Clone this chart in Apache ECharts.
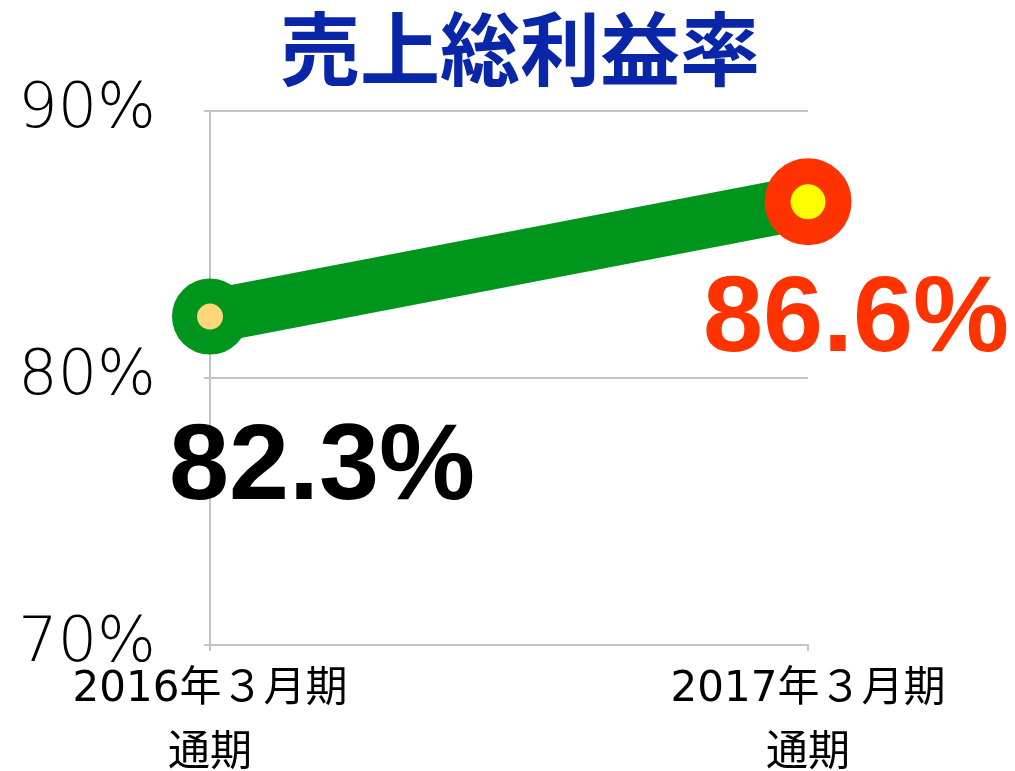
<!DOCTYPE html>
<html><head><meta charset="utf-8">
<script src="https://cdn.jsdelivr.net/npm/echarts@6/dist/echarts.min.js"></script>
<style>html,body{margin:0;padding:0;background:#fff}#c{width:1015px;height:771px}</style>
</head><body><div id="c"></div>
<script>
const titleText = '売上総利益率';
const categories = ['2016年３月期\n通期', '2017年３月期\n通期'];
const values = [82.3, 86.6];
const yTicks = [70, 80, 90];

const innerColors = ['#ffd67a', '#ffff00'];
const ringColors = ['#00961e', '#ff3300'];
const symbolSizes = [51, 61];
const ringWidths = [25, 26];
const labelColors = ['#000000', '#ff3300'];
const labelOffsets = [[112, 153], [48, 119]];

const data = values.map((v, i) => ({
  value: v,
  symbolSize: symbolSizes[i],
  itemStyle: { color: innerColors[i], borderColor: ringColors[i], borderWidth: ringWidths[i] },
  label: { color: labelColors[i], offset: labelOffsets[i] }
}));

const chart = echarts.init(document.getElementById('c'));
chart.setOption({
  animation: false,
  title: {
    text: titleText, left: 275, top: 4,
    textStyle: { fontFamily: 'Noto Sans CJK JP', fontWeight: 'bold', fontSize: 80, color: '#0a26a8' }
  },
  grid: { left: 210, right: 207, top: 111, bottom: 126, containLabel: false, outerBoundsMode: 'none' },
  xAxis: {
    type: 'category', data: categories, boundaryGap: false,
    axisLine: { lineStyle: { color: '#c4c4c4', width: 2 } },
    axisTick: { show: true, length: 6, lineStyle: { color: '#c4c4c4', width: 2 } },
    splitLine: { show: false },
    axisLabel: {
      fontFamily: 'DejaVu Sans, Noto Sans CJK JP', fontSize: 42, lineHeight: 64,
      color: '#000', margin: 13, interval: 0
    }
  },
  yAxis: {
    type: 'value', min: yTicks[0], max: yTicks[yTicks.length - 1], interval: 10,
    axisLine: { show: true, lineStyle: { color: '#c4c4c4', width: 2 } },
    axisTick: { show: true, length: 6, lineStyle: { color: '#c4c4c4', width: 2 } },
    splitLine: { lineStyle: { color: '#c4c4c4', width: 2 } },
    axisLabel: {
      formatter: '{value}%', fontFamily: 'DejaVu Sans', fontWeight: 300,
      fontSize: 62, color: '#000', margin: 54, padding: [9, 0, 0, 0]
    }
  },
  series: [{
    type: 'line', data: data, symbol: 'circle',
    lineStyle: { color: '#00961e', width: 54 },
    itemStyle: { color: '#ffd67a' },
    label: {
      show: true, position: 'inside', formatter: p => p.value.toFixed(1) + '%',
      fontFamily: 'Liberation Sans', fontWeight: 'bold', fontSize: 108
    },
    z: 2
  }]
});
</script></body></html>
